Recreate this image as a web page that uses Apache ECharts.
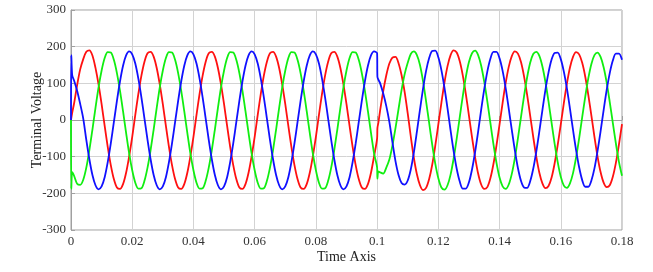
<!DOCTYPE html>
<html><head><meta charset="utf-8">
<script src="https://cdn.jsdelivr.net/npm/echarts@6/dist/echarts.min.js"></script>
<style>html,body{margin:0;padding:0;background:#fff}#c{width:653px;height:272px}</style>
</head><body><div id="c"></div>
<script>
// Tick labels
const xTickLabels = ['0','0.02','0.04','0.06','0.08','0.1','0.12','0.14','0.16','0.18'];
const yTickLabels = ['-300','-200','-100','0','100','200','300'];

// Sample times (s)
const time = [
0, 0.0001, 0.0004,
0.001,0.002,0.003,0.004,0.005,0.006,0.007,0.008,0.009,0.010,
0.011,0.012,0.013,0.014,0.015,0.016,0.017,0.018,0.019,0.020,
0.021,0.022,0.023,0.024,0.025,0.026,0.027,0.028,0.029,0.030,
0.031,0.032,0.033,0.034,0.035,0.036,0.037,0.038,0.039,0.040,
0.041,0.042,0.043,0.044,0.045,0.046,0.047,0.048,0.049,0.050,
0.051,0.052,0.053,0.054,0.055,0.056,0.057,0.058,0.059,0.060,
0.061,0.062,0.063,0.064,0.065,0.066,0.067,0.068,0.069,0.070,
0.071,0.072,0.073,0.074,0.075,0.076,0.077,0.078,0.079,0.080,
0.081,0.082,0.083,0.084,0.085,0.086,0.087,0.088,0.089,0.090,
0.091,0.092,0.093,0.094,0.095,0.096,0.097,0.098,0.099,0.100,
0.1001, 0.1004,
0.101,0.102,0.103,0.104,0.105,0.106,0.107,0.108,0.109,0.110,
0.111,0.112,0.113,0.114,0.115,0.116,0.117,0.118,0.119,0.120,
0.121,0.122,0.123,0.124,0.125,0.126,0.127,0.128,0.129,0.130,
0.131,0.132,0.133,0.134,0.135,0.136,0.137,0.138,0.139,0.140,
0.141,0.142,0.143,0.144,0.145,0.146,0.147,0.148,0.149,0.150,
0.151,0.152,0.153,0.154,0.155,0.156,0.157,0.158,0.159,0.160,
0.161,0.162,0.163,0.164,0.165,0.166,0.167,0.168,0.169,0.170,
0.171,0.172,0.173,0.174,0.175,0.176,0.177,0.178,0.179,0.180
];

// Phase voltages
const red = [
0, 5, 20,
45, 95, 138, 166, 186, 190, 176, 142, 97, 43,
-16, -73, -123, -161, -184, -188, -175, -144, -99, -46,
14, 71, 121, 159, 182, 186, 173, 142, 97, 43,
-16, -73, -123, -161, -184, -188, -175, -144, -99, -46,
14, 71, 121, 159, 182, 186, 173, 142, 97, 43,
-16, -73, -123, -161, -184, -188, -175, -144, -99, -46,
14, 71, 121, 159, 182, 186, 173, 142, 97, 43,
-16, -73, -123, -161, -184, -188, -175, -144, -99, -46,
14, 71, 121, 159, 182, 186, 173, 142, 97, 43,
-16, -73, -123, -161, -184, -188, -175, -144, -99, -50,
-22, -8,
27, 79, 122, 154, 170, 172, 155, 122, 76, 18,
-45, -103, -148, -178, -191, -185, -161, -122, -70, -12,
47, 102, 147, 177, 190, 184, 160, 121, 70, 12,
-47, -101, -146, -176, -188, -183, -159, -120, -69, -12,
47, 101, 145, 174, 187, 181, 158, 119, 69, 12,
-46, -100, -144, -173, -186, -180, -157, -118, -68, -12,
46, 99, 143, 172, 185, 179, 156, 118, 68, 12,
-46, -99, -142, -171, -183, -178, -155, -117, -67, -11
];

const green = [
0, -188, -142,
-152, -174, -177, -163, -130, -82, -26, 33, 89, 135,
169, 185, 184, 164, 128, 80, 24, -35, -91, -137,
-171, -187, -186, -166, -130, -82, -26, 33, 89, 135,
169, 185, 184, 164, 128, 80, 24, -35, -91, -137,
-171, -187, -186, -166, -130, -82, -26, 33, 89, 135,
169, 185, 184, 164, 128, 80, 24, -35, -91, -137,
-171, -187, -186, -166, -130, -82, -26, 33, 89, 135,
169, 185, 184, 164, 128, 80, 24, -35, -91, -137,
-171, -187, -186, -166, -130, -82, -26, 33, 89, 135,
169, 185, 184, 164, 128, 80, 24, -35, -91, -130,
-160, -140,
-143, -146, -130, -108, -70, -22, 30, 82, 125, 156,
180, 187, 177, 150, 106, 51, -8, -67, -119, -159,
-184, -190, -178, -149, -105, -51, 8, 66, 118, 158,
182, 189, 177, 148, 104, 51, -8, -66, -117, -157,
-181, -188, -176, -147, -104, -50, 8, 65, 116, 156,
180, 186, 175, 146, 103, 50, -8, -65, -115, -155,
-179, -185, -173, -145, -102, -50, 8, 64, 114, 153,
177, 184, 172, 144, 102, 49, -8, -64, -114, -152
];

const blue = [
0, 177, 122,
108, 80, 44, 4, -54, -107, -150, -178, -189, -181,
-156, -115, -64, -6, 52, 105, 148, 176, 187, 179,
154, 113, 62, 4, -54, -107, -150, -178, -189, -181,
-156, -115, -64, -6, 52, 105, 148, 176, 187, 179,
154, 113, 62, 4, -54, -107, -150, -178, -189, -181,
-156, -115, -64, -6, 52, 105, 148, 176, 187, 179,
154, 113, 62, 4, -54, -107, -150, -178, -189, -181,
-156, -115, -64, -6, 52, 105, 148, 176, 187, 179,
154, 113, 62, 4, -54, -107, -150, -178, -189, -181,
-156, -115, -64, -6, 52, 105, 148, 176, 187, 182,
118, 110,
100, 72, 38, -5, -60, -112, -150, -172, -176, -165,
-135, -89, -32, 28, 85, 134, 169, 188, 189, 171,
136, 88, 32, -28, -85, -133, -168, -187, -187, -170,
-135, -88, -32, 28, 84, 132, 167, 186, 186, 168,
134, 87, 31, -27, -83, -131, -166, -184, -185, -167,
-133, -86, -31, 27, 83, 130, 165, 183, 184, 166,
132, 86, 31, -27, -82, -129, -164, -182, -182, -165,
-132, -85, -31, 27, 82, 128, 162, 181, 181, 164
];

const FONT = "'Liberation Serif','Times New Roman',serif";
const AX = '#a0a0a0';
const GRIDC = '#d3d3d3';

const pairs = arr => time.map((t, i) => [t, arr[i]]);
const mk = (name, arr, color) => ({
  name, type: 'line', data: pairs(arr), showSymbol: false, smooth: 0.3,
  lineStyle: { color, width: 1.8 }, itemStyle: { color }, animation: false, z: 3
});

const chart = echarts.init(document.getElementById('c'), null, { renderer: 'canvas' });
chart.setOption({
  animation: false,
  backgroundColor: '#ffffff',
  grid: { left: 71, right: 31, top: 10, bottom: 42, show: true, borderColor: AX, borderWidth: 1, containLabel: false },
  xAxis: {
    type: 'value', min: 0, max: 0.18, interval: 0.02,
    name: 'Time Axis', nameLocation: 'middle', nameGap: 20, nameMoveOverlap: false,
    nameTextStyle: { fontFamily: FONT, fontSize: 14, color: '#222' },
    axisLine: { show: true, lineStyle: { color: AX } },
    axisTick: { show: true, inside: true, length: 4, lineStyle: { color: AX } },
    splitLine: { show: true, lineStyle: { color: GRIDC, width: 1 } },
    axisLabel: { margin: 5, fontFamily: FONT, fontSize: 13, color: '#333',
      formatter: v => xTickLabels[Math.round(v / 0.02)] }
  },
  yAxis: {
    type: 'value', min: -300, max: 300, interval: 100,
    name: 'Terminal Voltage', nameLocation: 'middle', nameGap: 27, nameMoveOverlap: false,
    nameTextStyle: { fontFamily: FONT, fontSize: 14, color: '#222' },
    axisLine: { show: true, lineStyle: { color: AX } },
    axisTick: { show: true, inside: true, length: 4, lineStyle: { color: AX } },
    splitLine: { show: true, lineStyle: { color: GRIDC, width: 1 } },
    axisLabel: { margin: 5, fontFamily: FONT, fontSize: 13, color: '#333',
      formatter: v => yTickLabels[Math.round((v + 300) / 100)] }
  },
  series: [
    mk('Phase A', red, '#ff1010'),
    mk('Phase B', green, '#10ee10'),
    mk('Phase C', blue, '#1010ff')
  ]
});
</script></body></html>
